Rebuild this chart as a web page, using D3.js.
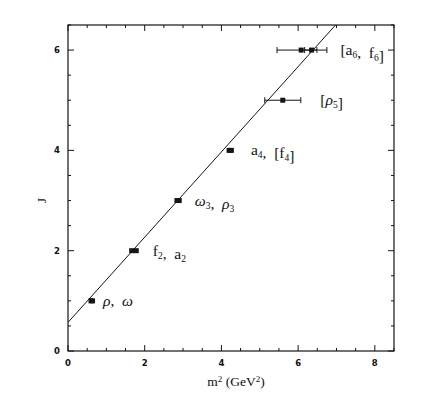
<!DOCTYPE html>
<html>
<head>
<meta charset="utf-8">
<script src="https://cdn.jsdelivr.net/npm/d3@7/dist/d3.min.js"></script>
<style>
  html, body { margin: 0; padding: 0; background: #fff; }
  .tick-label { font-family: 'DejaVu Sans', sans-serif; font-size: 8.5px; font-weight: bold; fill: #111; }
  .ann { font-family: 'Liberation Serif', 'DejaVu Serif', serif; font-size: 15.5px; fill: #111; }
</style>
</head>
<body>
<div id="chart"></div>
<script>
// --- Data: Regge trajectory (rho / omega / f / a families) ---
const states   = ['rho', 'omega', 'f2', 'a2', 'omega3', 'rho3', 'a4', 'f4', 'rho5', 'a6', 'f6'];
const massSq   = [0.60, 0.64, 1.66, 1.78, 2.84, 2.90, 4.20, 4.26, 5.60, 6.08, 6.35];
const spin     = [1, 1, 2, 2, 3, 3, 4, 4, 5, 6, 6];
const errLow   = [null, null, null, null, null, null, null, null, 5.13, 5.45, 6.17];
const errHigh  = [null, null, null, null, null, null, null, null, 6.07, 6.49, 6.75];

// one label per spin level: [text, subscript, italic] pieces
const labelSpin = [1, 2, 3, 4, 5, 6];
const labelText = [
    [['ρ', '', true], [',\u00a0\u00a0', '', false], ['ω', '', true]],
    [['f', '2', false], [',\u00a0\u00a0', '', false], ['a', '2', false]],
    [['ω', '3', true], [',\u00a0\u00a0', '', false], ['ρ', '3', true]],
    [['a', '4', false], [',\u00a0\u00a0[', '', false], ['f', '4', false], [']', '', false]],
    [['[', '', false], ['ρ', '5', true], [']', '', false]],
    [['[', '', false], ['a', '6', false], [',\u00a0\u00a0', '', false], ['f', '6', false], [']', '', false]]
];

const xTicks = [0, 2, 4, 6, 8];
const yTicks = [0, 2, 4, 6];
const reggeIntercept = 0.57;
const reggeSlope = 0.85;

// --- Layout ---
const W = 436, H = 410;
const margin = {top: 25, right: 42, bottom: 59, left: 68};

const svg = d3.select('#chart').append('svg')
    .attr('width', W).attr('height', H);

const x = d3.scaleLinear().domain([0, 8.5]).range([margin.left, W - margin.right]);
const y = d3.scaleLinear().domain([0, 6.5]).range([H - margin.bottom, margin.top]);

const ink = '#151515';

// frame
svg.append('rect')
    .attr('x', x(0)).attr('y', y(6.5))
    .attr('width', x(8.5) - x(0)).attr('height', y(0) - y(6.5))
    .attr('fill', 'none').attr('stroke', ink).attr('stroke-width', 1.2);

// inward ticks on all four sides
const xMinor = d3.range(0, 8.5001, 0.5);
const yMinor = d3.range(0, 6.5001, 0.5);
xMinor.forEach(v => {
    const len = xTicks.includes(v) ? 6 : 3;
    svg.append('line').attr('x1', x(v)).attr('x2', x(v))
        .attr('y1', y(0)).attr('y2', y(0) - len).attr('stroke', ink).attr('stroke-width', 1);
    svg.append('line').attr('x1', x(v)).attr('x2', x(v))
        .attr('y1', y(6.5)).attr('y2', y(6.5) + len).attr('stroke', ink).attr('stroke-width', 1);
});
yMinor.forEach(v => {
    const len = yTicks.includes(v) ? 6 : 3;
    svg.append('line').attr('y1', y(v)).attr('y2', y(v))
        .attr('x1', x(0)).attr('x2', x(0) + len).attr('stroke', ink).attr('stroke-width', 1);
    svg.append('line').attr('y1', y(v)).attr('y2', y(v))
        .attr('x1', x(8.5)).attr('x2', x(8.5) - len).attr('stroke', ink).attr('stroke-width', 1);
});

// tick labels
xTicks.forEach(v => {
    svg.append('text').attr('class', 'tick-label')
        .attr('x', x(v)).attr('y', y(0) + 15)
        .attr('text-anchor', 'middle').text(v);
});
yTicks.forEach(v => {
    svg.append('text').attr('class', 'tick-label')
        .attr('x', x(0) - 8).attr('y', y(v) + 3)
        .attr('text-anchor', 'end').text(v);
});

// axis titles
const xTitle = svg.append('text').attr('class', 'ann')
    .attr('x', (x(0) + x(8.5)) / 2 + 5).attr('y', y(0) + 35)
    .attr('text-anchor', 'middle').style('font-size', '13.5px');
xTitle.append('tspan').text('m');
xTitle.append('tspan').attr('dy', -4).style('font-size', '9px').text('2');
xTitle.append('tspan').attr('dy', 4).text(' (GeV');
xTitle.append('tspan').attr('dy', -4).style('font-size', '9px').text('2');
xTitle.append('tspan').attr('dy', 4).text(')');

svg.append('text').attr('class', 'ann')
    .attr('transform', `translate(${x(0) - 27},${y(3)}) rotate(-90)`)
    .attr('text-anchor', 'middle').attr('dy', 5)
    .style('font-size', '13px').text('J');

// Regge line, clipped to the frame
svg.append('clipPath').attr('id', 'plot-clip')
    .append('rect').attr('x', x(0)).attr('y', y(6.5))
    .attr('width', x(8.5) - x(0)).attr('height', y(0) - y(6.5));
const lineX = [0, 8.5];
svg.append('path')
    .attr('clip-path', 'url(#plot-clip)')
    .attr('d', d3.line().x(d => x(d)).y(d => y(reggeIntercept + reggeSlope * d))(lineX))
    .attr('fill', 'none').attr('stroke', ink).attr('stroke-width', 1);

// error bars
states.forEach((s, i) => {
    if (errLow[i] === null) return;
    const yy = y(spin[i]);
    svg.append('line').attr('x1', x(errLow[i])).attr('x2', x(errHigh[i]))
        .attr('y1', yy).attr('y2', yy).attr('stroke', ink).attr('stroke-width', 1);
    [errLow[i], errHigh[i]].forEach(v => {
        svg.append('line').attr('x1', x(v)).attr('x2', x(v))
            .attr('y1', yy - 3).attr('y2', yy + 3).attr('stroke', ink).attr('stroke-width', 1);
    });
});

// points
svg.selectAll('rect.pt').data(states).enter().append('rect').attr('class', 'pt')
    .attr('x', (d, i) => x(massSq[i]) - 2.5)
    .attr('y', (d, i) => y(spin[i]) - 2.5)
    .attr('width', 5).attr('height', 5)
    .attr('fill', ink);

// labels: placed to the right of the rightmost mark at each spin
const labelGap = [8, 14, 13, 17, 17, 11];
labelSpin.forEach((j, k) => {
    let right = -Infinity;
    states.forEach((s, i) => {
        if (spin[i] !== j) return;
        right = Math.max(right, x(errHigh[i] !== null ? errHigh[i] : massSq[i]) + 2.5);
    });
    const t = svg.append('text').attr('class', 'ann')
        .attr('x', right + labelGap[k]).attr('y', y(j) + 5);
    labelText[k].forEach(([txt, sub, ital]) => {
        t.append('tspan').style('font-style', ital ? 'italic' : 'normal').text(txt);
        if (sub) {
            t.append('tspan').attr('dy', 3).style('font-size', '9.5px').text(sub);
            t.append('tspan').attr('dy', -3).text('');
        }
    });
});
</script>
</body>
</html>
